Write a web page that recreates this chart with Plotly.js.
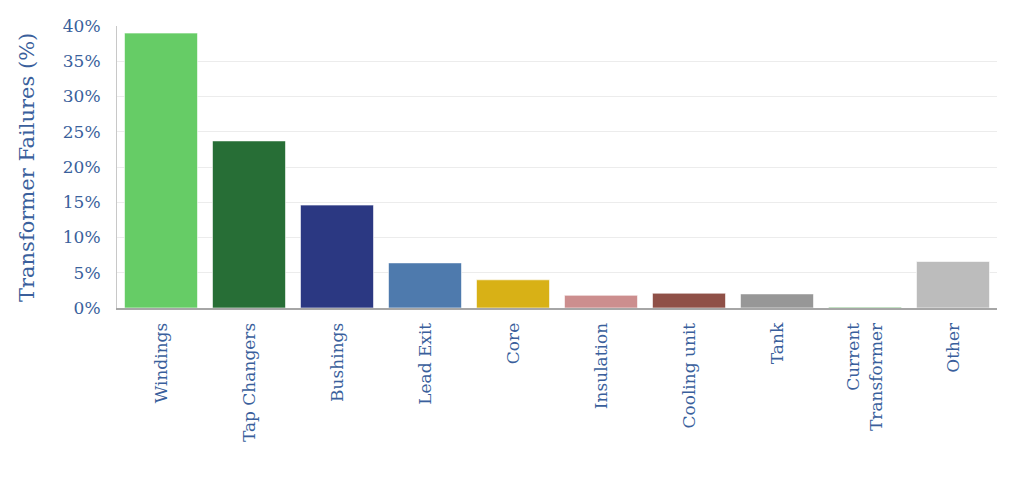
<!DOCTYPE html>
<html>
<head>
<meta charset="utf-8">
<script src="https://cdn.plot.ly/plotly-3.0.1.min.js"></script>
<style>html,body{margin:0;padding:0;background:#fff;}#chart{width:1024px;height:488px;}</style>
</head>
<body>
<div id="chart"></div>
<script>
const categories = ["Windings", "Tap Changers", "Bushings", "Lead Exit", "Core", "Insulation", "Cooling unit", "Tank", "Current<br>Transformer", "Other"];
const failures = [39.0, 23.7, 14.6, 6.4, 4.0, 1.8, 2.1, 2.0, 0.15, 6.6];
const barColors = ["#66cc66", "#276e36", "#2b3882", "#4e7aad", "#d8b116", "#cc8e8e", "#8f5047", "#979797", "#8fc88f", "#bcbcbc"];
const yTicks = [0, 5, 10, 15, 20, 25, 30, 35, 40];
const yTickText = yTicks.map(v => v + "%");
const yTitle = "Transformer Failures (%)";

const textColor = "#3a5f9c";
const fontFam = "DejaVu Serif, Liberation Serif, serif";

Plotly.newPlot("chart", [{
  type: "bar",
  x: categories,
  y: failures,
  marker: {color: barColors, line: {color: "rgba(255,255,255,0.6)", width: 1}},
  hoverinfo: "skip"
}], {
  width: 1024, height: 488,
  margin: {l: 117, r: 27, t: 26, b: 180},
  paper_bgcolor: "#ffffff", plot_bgcolor: "#ffffff",
  bargap: 0.17,
  showlegend: false,
  font: {family: fontFam, color: textColor, size: 16},
  xaxis: {
    type: "category",
    tickangle: -90,
    showgrid: false,
    showline: true, linecolor: "#a6a6a6", linewidth: 2,
    ticks: "",
    ticklabelstandoff: 6,
    tickfont: {family: fontFam, color: textColor, size: 17},
    automargin: false
  },
  yaxis: {
    range: [0, 40],
    tickvals: yTicks, ticktext: yTickText,
    showgrid: true, gridcolor: "#ececec", gridwidth: 1,
    zeroline: false,
    showline: true, linecolor: "#c8c8c8", linewidth: 1,
    ticks: "",
    ticklabelstandoff: 12,
    tickfont: {family: fontFam, color: textColor, size: 17},
    automargin: false
  },
  annotations: [{
    text: yTitle, xref: "paper", yref: "paper",
    x: -0.1023, y: 0.5, xanchor: "center", yanchor: "middle",
    textangle: -90, showarrow: false,
    font: {family: fontFam, color: textColor, size: 21}
  }]
}, {displayModeBar: false, staticPlot: true});
</script>
</body>
</html>
